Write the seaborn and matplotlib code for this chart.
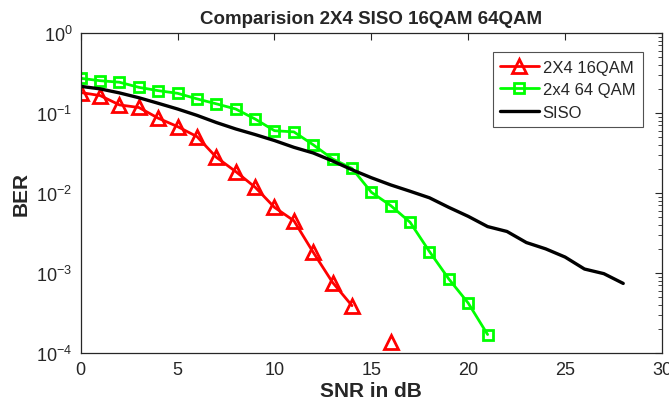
import numpy as np
import pandas as pd
import matplotlib
matplotlib.use("Agg")
import matplotlib.pyplot as plt
import seaborn as sns
from matplotlib.ticker import LogLocator, MultipleLocator, NullFormatter

sns.set_style("white")
plt.rcParams['font.family'] = ['Liberation Sans', 'DejaVu Sans']
plt.rcParams['mathtext.fontset'] = 'custom'
plt.rcParams['mathtext.rm'] = 'Liberation Sans'

# Data
snr_16qam = [0, 1, 2, 3, 4, 5, 6, 7, 8, 9, 10, 11, 12, 13, 14, 15, 16]
ber_16qam = [0.18, 0.165, 0.126, 0.117, 0.086, 0.0675, 0.0506, 0.0279, 0.0185,
             0.0118, 0.0066, 0.0045, 0.00181, 0.00076, 0.00039, np.nan, 0.000136]

snr_64qam = list(range(0, 22))
ber_64qam = [0.271, 0.253, 0.242, 0.209, 0.19, 0.176, 0.15, 0.13, 0.112, 0.084,
             0.060, 0.058, 0.040, 0.0266, 0.0203, 0.0102, 0.00695, 0.0043,
             0.00185, 0.00084, 0.00042, 0.00017]

snr_siso = list(range(0, 29))
ber_siso = [0.215, 0.200, 0.178, 0.155, 0.132, 0.112, 0.0933, 0.0759, 0.0631,
            0.0537, 0.0452, 0.0372, 0.0316, 0.0251, 0.0195, 0.0155, 0.0126,
            0.0105, 0.0087, 0.0066, 0.0051, 0.0038, 0.0033, 0.0024, 0.0020,
            0.00158, 0.00112, 0.00098, 0.00074]

labels = ['2X4 16QAM', '2x4 64 QAM', 'SISO']


def segments(x, y):
    # split a series at missing values so the line breaks there
    df = pd.DataFrame({'snr': x, 'ber': y})
    df['seg'] = df['ber'].isna().cumsum()
    return df.dropna()


fig = plt.figure(figsize=(6.69, 4.14), dpi=100)
ax = fig.add_axes([0.1207, 0.145, 0.8688, 0.773])

axis_col = '#262626'

sns.lineplot(data=segments(snr_16qam, ber_16qam), x='snr', y='ber', units='seg',
             estimator=None, color='#ff0000', linewidth=2, marker='^',
             markersize=10, markerfacecolor='none', markeredgecolor='#ff0000',
             markeredgewidth=2, ax=ax)
sns.lineplot(data=segments(snr_64qam, ber_64qam), x='snr', y='ber', units='seg',
             estimator=None, color='#00ff00', linewidth=2, marker='s',
             markersize=7, markerfacecolor='none', markeredgecolor='#00ff00',
             markeredgewidth=2, ax=ax)
sns.lineplot(data=segments(snr_siso, ber_siso), x='snr', y='ber', units='seg',
             estimator=None, color='black', linewidth=2.4, ax=ax)

ax.set_yscale('log')
ax.set_xlim(0, 30)
ax.set_ylim(1e-4, 1)
ax.xaxis.set_major_locator(MultipleLocator(5))
ax.yaxis.set_major_locator(LogLocator(base=10, numticks=10))
ax.yaxis.set_minor_locator(LogLocator(base=10, subs=np.arange(2, 10), numticks=20))
ax.yaxis.set_minor_formatter(NullFormatter())

ax.tick_params(axis='both', which='both', direction='in', top=True, right=True,
               colors=axis_col, labelsize=13, pad=6)
ax.tick_params(axis='both', which='major', length=5, width=0.8)
ax.tick_params(axis='y', which='minor', length=3, width=0.6)
for sp in ax.spines.values():
    sp.set_color(axis_col)
    sp.set_linewidth(0.9)

ax.set_xlabel('SNR in dB', fontsize=15, fontweight='bold', color=axis_col, labelpad=2)
ax.set_ylabel('BER', fontsize=15, fontweight='bold', color=axis_col, labelpad=4)
ax.set_title('Comparision 2X4 SISO 16QAM 64QAM', fontsize=13.5, fontweight='bold', pad=7)

# one legend entry per series
lines = ax.get_lines()
handles = []
seen = set()
for ln in lines:
    key = ln.get_color()
    if key not in seen:
        seen.add(key)
        handles.append(ln)
leg = ax.legend(handles, labels, loc='upper right', bbox_to_anchor=(0.967, 0.94),
                borderaxespad=0, fontsize=12, frameon=True, fancybox=False,
                edgecolor=axis_col, handlelength=2.3, handletextpad=0.25,
                borderpad=0.45, labelspacing=0.45)
leg.get_frame().set_linewidth(0.8)

fig.savefig('out.png', dpi=100)
